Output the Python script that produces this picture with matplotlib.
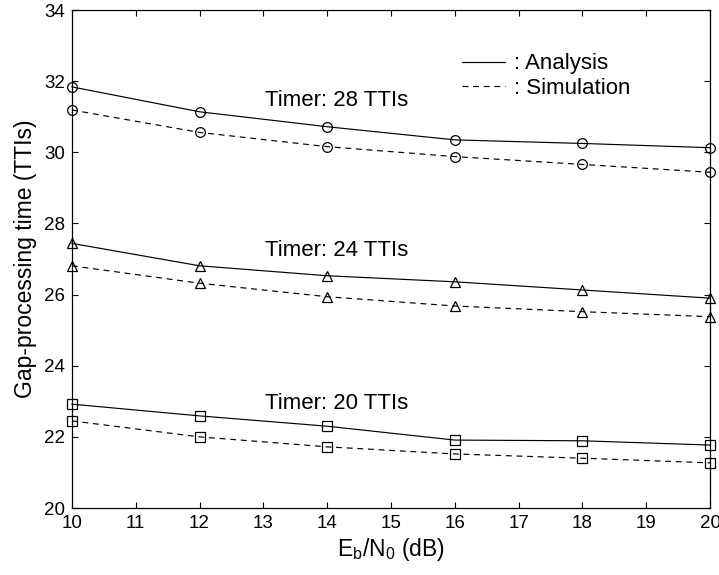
import matplotlib
matplotlib.use("Agg")
import matplotlib.pyplot as plt
from matplotlib.lines import Line2D

plt.rcParams['font.family'] = ['Liberation Sans', 'DejaVu Sans']
plt.rcParams['mathtext.fontset'] = 'custom'
plt.rcParams['mathtext.rm'] = 'Liberation Sans'

ebn0 = [10, 12, 14, 16, 18, 20]

ana_28 = [31.84, 31.14, 30.72, 30.35, 30.25, 30.13]
sim_28 = [31.19, 30.56, 30.16, 29.88, 29.66, 29.44]
ana_24 = [27.44, 26.81, 26.53, 26.36, 26.13, 25.90]
sim_24 = [26.81, 26.32, 25.94, 25.68, 25.52, 25.38]
ana_20 = [22.92, 22.59, 22.30, 21.91, 21.89, 21.77]
sim_20 = [22.45, 22.00, 21.72, 21.52, 21.40, 21.27]

timer_labels = ["Timer: 28 TTIs", "Timer: 24 TTIs", "Timer: 20 TTIs"]
label_pos = [(13.02, 31.47), (13.02, 27.25), (13.02, 22.95)]

xticks = list(range(10, 21))
yticks = [20, 22, 24, 26, 28, 30, 32, 34]

fig = plt.figure(figsize=(7.19, 5.75), dpi=100)
ax = fig.add_axes([0.100, 0.1165, 0.8875, 0.866])

dash = (0, (5, 4))
lw = 0.85
groups = [(ana_28, sim_28, 'o', 7), (ana_24, sim_24, '^', 7.5), (ana_20, sim_20, 's', 7.5)]
for ana, sim, mk, ms in groups:
    ax.plot(ebn0, ana, color='black', lw=lw, marker=mk, ms=ms, mfc='none', mec='black', mew=0.9, clip_on=False)
    ax.plot(ebn0, sim, color='black', lw=lw, ls=dash, marker=mk, ms=ms, mfc='none', mec='black', mew=0.9, clip_on=False)

for txt, (x, y) in zip(timer_labels, label_pos):
    ax.text(x, y, txt, ha='left', va='center', fontsize=16)

ax.set_xlim(10, 20)
ax.set_ylim(20, 34)
ax.set_xticks(xticks)
ax.set_yticks(yticks)
ax.tick_params(direction='in', top=True, right=True, length=4.5, width=0.8, labelsize=13.5, pad=5)
for s in ax.spines.values():
    s.set_linewidth(0.9)

ax.set_xlabel(r'$\mathregular{E_b/N_0}$ (dB)', fontsize=16.5, labelpad=3)
ax.set_ylabel('Gap-processing time (TTIs)', fontsize=16.5, labelpad=5)

handles = [Line2D([], [], color='black', lw=lw), Line2D([], [], color='black', lw=lw, ls=dash)]
ax.legend(handles, [': Analysis', ': Simulation'], loc='upper left', bbox_to_anchor=(0.611, 0.913),
          frameon=False, fontsize=16, handlelength=1.95, handletextpad=0.4, labelspacing=0.15,
          borderpad=0, borderaxespad=0)

fig.savefig('out.png', dpi=100)
